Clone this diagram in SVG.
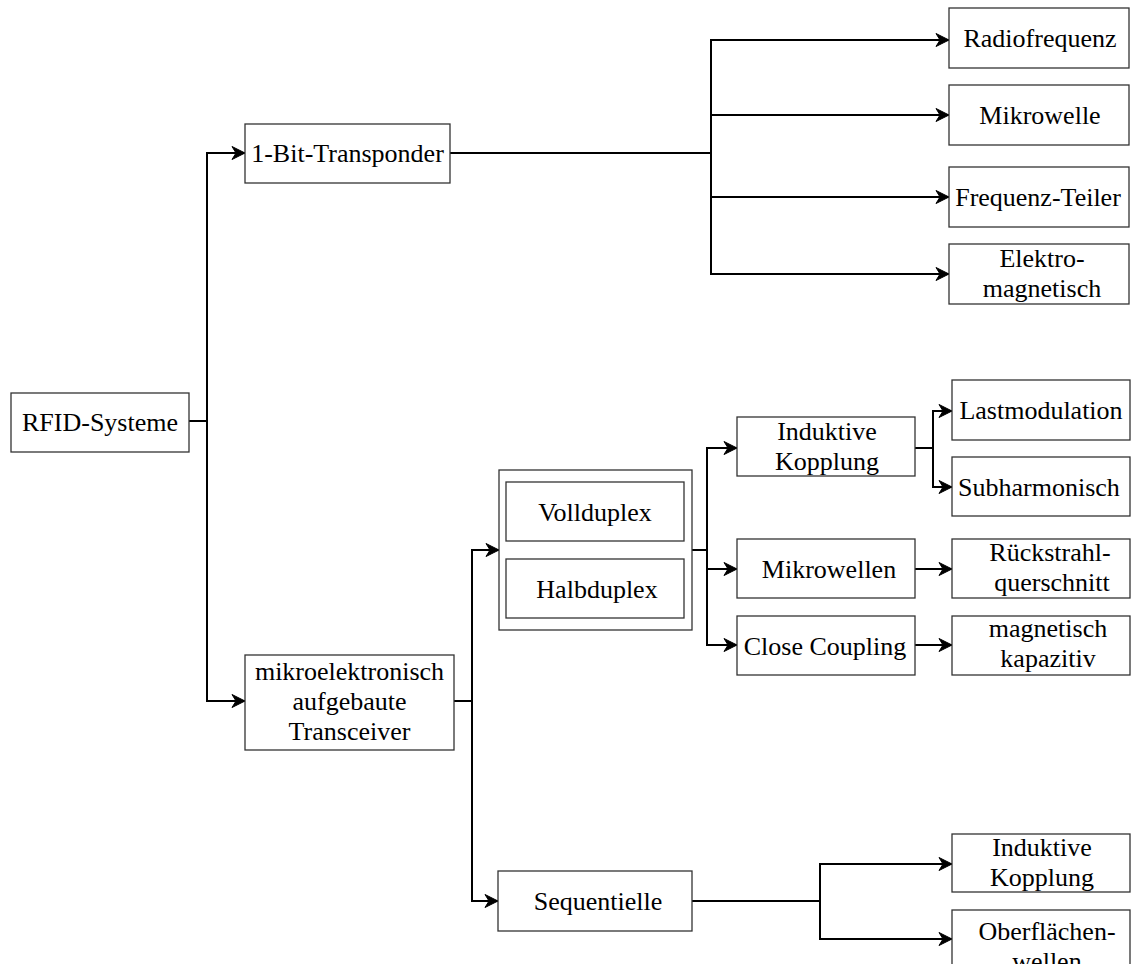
<svg xmlns="http://www.w3.org/2000/svg" width="1133" height="964" viewBox="0 0 1133 964">
<style>
rect{fill:#fff;stroke:#333;stroke-width:1.3}
text{font-family:"Liberation Serif","Times New Roman",serif;font-size:26px;fill:#000;text-anchor:middle}
.c path{fill:none;stroke:#000;stroke-width:2;marker-end:url(#a)}
</style>
<defs>
<marker id="a" viewBox="-15 -8 17 16" markerWidth="17" markerHeight="16" refX="0" refY="0" orient="auto" markerUnits="userSpaceOnUse">
<path d="M-13,-6.5 L0,0 L-13,6.5 L-9,0 z" fill="#000" stroke="#000" stroke-width="1" stroke-linejoin="miter"/>
</marker>
</defs>
<rect x="0" y="0" width="1133" height="964" style="fill:#fff;stroke:none"/>
<g class="c" id="connectors">
<path d="M189,421 H207 V153 H245"/>
<path d="M189,421 H207 V701 H245"/>
<path d="M450,153 H711 V40 H949"/>
<path d="M450,153 H711 V115 H949"/>
<path d="M450,153 H711 V197 H949"/>
<path d="M450,153 H711 V274 H949"/>
<path d="M454,701 H472 V550 H499"/>
<path d="M454,701 H472 V901 H498"/>
<path d="M692,550 H707 V448 H737"/>
<path d="M692,550 H707 V569 H737"/>
<path d="M692,550 H707 V645 H737"/>
<path d="M915,448 H933 V411 H952"/>
<path d="M915,448 H933 V487 H952"/>
<path d="M915,569 H952"/>
<path d="M915,645 H952"/>
<path d="M692,901 H820 V864 H952"/>
<path d="M692,901 H820 V939 H952"/>
</g>
<g id="rfid"><rect x="11" y="393" width="178" height="59"/><text x="100" y="431">RFID-Systeme</text></g>
<g id="onebit"><rect x="245" y="124" width="205" height="59"/><text x="347.5" y="162">1-Bit-Transponder</text></g>
<g id="radiofrequenz"><rect x="949" y="8" width="180" height="60"/><text x="1040" y="47">Radiofrequenz</text></g>
<g id="mikrowelle"><rect x="949" y="85" width="180" height="60"/><text x="1040" y="124">Mikrowelle</text></g>
<g id="frequenzteiler"><rect x="949" y="167" width="180" height="60"/><text x="1038" y="206">Frequenz-Teiler</text></g>
<g id="elektromagnetisch"><rect x="949" y="244" width="180" height="60"/><text x="1042" y="267">Elektro-</text><text x="1042" y="297">magnetisch</text></g>
<g id="mikroelektronisch"><rect x="245" y="655" width="209" height="95"/><text x="349.5" y="680">mikroelektronisch</text><text x="349.5" y="710">aufgebaute</text><text x="349.5" y="740">Transceiver</text></g>
<g id="duplex"><rect x="499" y="470" width="193" height="160"/>
<g id="vollduplex"><rect x="506" y="482" width="178" height="59"/><text x="595" y="521">Vollduplex</text></g>
<g id="halbduplex"><rect x="506" y="559" width="178" height="59"/><text x="597" y="598">Halbduplex</text></g>
</g>
<g id="induktiv1"><rect x="737" y="417" width="178" height="59"/><text x="827" y="440">Induktive</text><text x="827" y="470">Kopplung</text></g>
<g id="mikrowellen"><rect x="737" y="539" width="178" height="59"/><text x="829" y="578">Mikrowellen</text></g>
<g id="closecoupling"><rect x="737" y="616" width="178" height="59"/><text x="825" y="655">Close Coupling</text></g>
<g id="lastmodulation"><rect x="952" y="380" width="178" height="60"/><text x="1041" y="419">Lastmodulation</text></g>
<g id="subharmonisch"><rect x="952" y="457" width="178" height="59"/><text x="1039" y="496">Subharmonisch</text></g>
<g id="rueckstrahl"><rect x="952" y="539" width="178" height="59"/><text x="1050" y="561">Rückstrahl-</text><text x="1052" y="591">querschnitt</text></g>
<g id="magnetisch"><rect x="952" y="616" width="178" height="59"/><text x="1048" y="637">magnetisch</text><text x="1048" y="667">kapazitiv</text></g>
<g id="sequentielle"><rect x="498" y="871" width="194" height="60"/><text x="598" y="910">Sequentielle</text></g>
<g id="induktiv2"><rect x="952" y="834" width="178" height="58"/><text x="1042" y="856">Induktive</text><text x="1042" y="886">Kopplung</text></g>
<g id="oberflaechen"><rect x="952" y="910" width="178" height="60"/><text x="1047" y="940">Oberflächen-</text><text x="1047" y="970">wellen</text></g>
</svg>
